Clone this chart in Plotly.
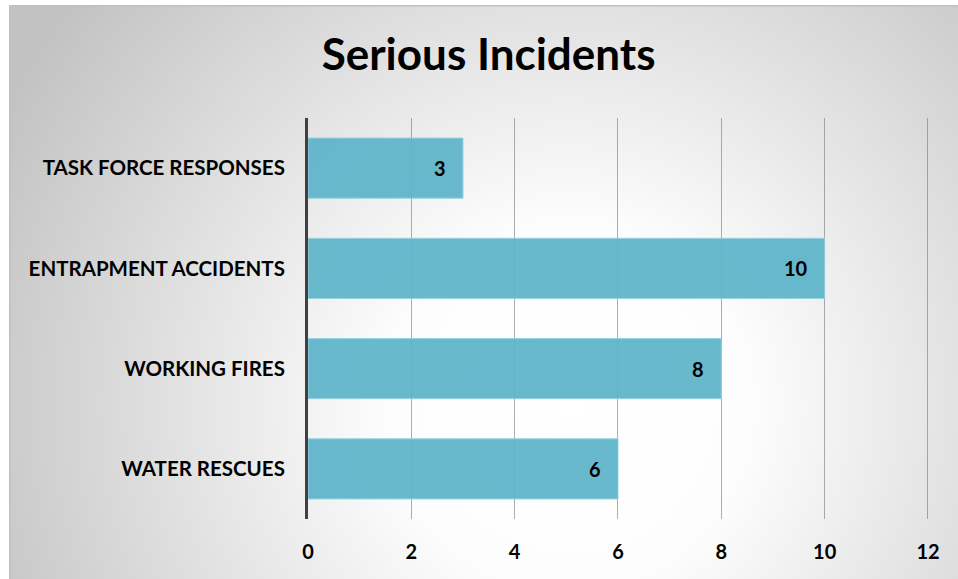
import base64
import plotly.graph_objects as go

# ── Data ──────────────────────────────────────────────────────────────────────

CATEGORIES = ['WATER RESCUES', 'WORKING FIRES', 'ENTRAPMENT ACCIDENTS', 'TASK FORCE RESPONSES']
COUNTS = [6, 8, 10, 3]
X_TICKS = [0, 2, 4, 6, 8, 10, 12]

BAR_COLOR = '#5db4ca'
FONT = 'Lato'

# ── Background: radial gray gradient with a thin frame ────────────────────────

W, H = 958, 579
ML, MR, MT, MB = 308, 29, 118, 60
PW, PH = W - ML - MR, H - MT - MB

fx0, fy0 = 9, 5
FW, FH = W - fx0, H - fy0

svg = f'''<svg xmlns="http://www.w3.org/2000/svg" width="{FW}" height="{FH}" viewBox="0 0 {FW} {FH}">
<defs><radialGradient id="g" gradientUnits="userSpaceOnUse" cx="560" cy="400" r="640">
<stop offset="0" stop-color="#ffffff"/><stop offset="0.28" stop-color="#fdfdfd"/>
<stop offset="1" stop-color="#c2c2c2"/></radialGradient></defs>
<rect x="0" y="0" width="{FW}" height="{FH}" fill="url(#g)"/>
<path d="M0.75 {FH} L0.75 0.75 L{FW} 0.75" fill="none" stroke="#c0c0c0" stroke-width="1.5"/>
</svg>'''
bg = 'data:image/svg+xml;base64,' + base64.b64encode(svg.encode()).decode()

bg_x = (fx0 - ML) / PW
bg_y = 1 + (MT - fy0) / PH
bg_w = FW / PW
bg_h = FH / PH

# ── Chart ─────────────────────────────────────────────────────────────────────

fig = go.Figure(go.Bar(
    x=COUNTS, y=CATEGORIES, orientation='h',
    marker=dict(color=BAR_COLOR, opacity=0.92,
                line=dict(color='#8fd0e0', width=1)),
    width=0.6,
))

for cat, val in zip(CATEGORIES, COUNTS):
    fig.add_annotation(x=val, y=cat, text=str(val), showarrow=False,
                       xanchor='right', xshift=-15,
                       font=dict(family=FONT, size=20, color='#000000', weight='bold'))

fig.add_layout_image(dict(
    source=bg, xref='paper', yref='paper',
    x=bg_x, y=bg_y, sizex=bg_w, sizey=bg_h,
    xanchor='left', yanchor='top', sizing='stretch', layer='below',
))

fig.update_layout(
    width=W, height=H,
    margin=dict(l=ML, r=MR, t=MT, b=MB),
    paper_bgcolor='white', plot_bgcolor='rgba(0,0,0,0)',
    showlegend=False,
    title=dict(text='<b>Serious Incidents</b>', x=0.51, xanchor='center',
               y=0.905, yanchor='middle',
               font=dict(family=FONT, size=44, color='#000000')),
    xaxis=dict(range=[0, 12.02], tickvals=X_TICKS, showgrid=True,
               gridcolor='rgba(120,120,120,0.6)', gridwidth=1,
               zeroline=False, showline=False, ticks='',
               ticklabelstandoff=19,
               tickfont=dict(family=FONT, size=20, color='#000000', weight='bold'),
               fixedrange=True),
    yaxis=dict(showline=True, linecolor='#404040', linewidth=3,
               showgrid=False, ticks='', ticklabelstandoff=16,
               tickfont=dict(family=FONT, size=20.5, color='#000000', weight='bold'),
               fixedrange=True),
)

fig.write_html('out.html', config={'displayModeBar': False},
               post_script="document.body.style.margin='0';")
